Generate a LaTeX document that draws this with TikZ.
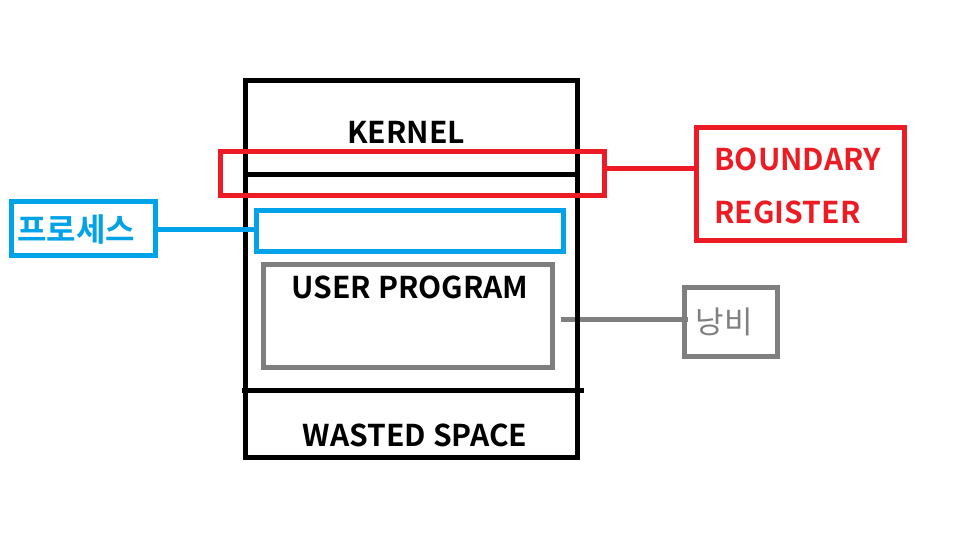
\documentclass[tikz,border=0pt]{standalone}
\usepackage{fontspec}
\setmainfont{Noto Sans CJK KR}[BoldFont={Noto Sans CJK KR Bold}]
\definecolor{paintred}{HTML}{ED1C24}
\definecolor{paintblue}{HTML}{00A2E8}
\definecolor{paintgray}{HTML}{7F7F7F}

\begin{document}
\begin{tikzpicture}[x=1pt,y=-1pt,-,line width=5pt,
    box node/.style={draw,rectangle,inner sep=0pt},
    text node/.style={inner sep=0pt,font=\bfseries\fontsize{30}{36}\selectfont}]
            \useasboundingbox (0,0) rectangle (960,545);

            % user program and waste, under the memory box
            \node[box node,draw=paintgray,minimum width=289,minimum height=103] (user) at (408,316) {};
            \node[text node] (usertext) at (410,287) {USER PROGRAM};
            \node[box node,draw=paintgray,minimum width=93.5,minimum height=69] (waste) at (730.75,322) {};
            \node[text node,font=\fontsize{31}{36}\selectfont,text=paintgray] (wastetext) at (724,322) {낭비};
            \path ([xshift=6pt,yshift=-3.3pt]user.east) edge[draw=paintgray] ([xshift=6pt,yshift=-3.3pt]user.east -| waste.west);

            % memory
            \node[box node,minimum width=332,minimum height=377] (mem) at (411.5,269) {};
            \coordinate (kl) at (245,174.5);
            \coordinate (kr) at (580,174.5);
            \coordinate (wl) at (242,390);
            \coordinate (wr) at (584,390);
            \draw (kl) -- (kr);
            \draw (wl) -- (wr);
            \node[text node] (kernel) at (406,132) {KERNEL};
            \node[text node] (wasted) at (415,435) {WASTED SPACE};

            % boundary register
            \node[box node,draw=paintred,minimum width=384,minimum height=44.5] (reg) at (412.5,173.7) {};
            \node[box node,draw=paintred,minimum width=207.5,minimum height=113] (reglabel) at (800.25,184) {};
            \node[text node,text=paintred,anchor=west,align=left,font=\bfseries\fontsize{30}{53}\selectfont] (regtext) at (712,185.5) {BOUNDARY\\REGISTER};

            % process
            \node[box node,draw=paintblue,minimum width=306.5,minimum height=41] (proc) at (409.75,231) {};
            \node[box node,draw=paintblue,minimum width=144,minimum height=54] (proclabel) at (83.5,228.5) {};
            \node[text node,text=paintblue,font=\bfseries\fontsize{32}{36}\selectfont] (proctext) at (76,229) {프로세스};

            \path
                    ([yshift=5.4pt]reg.east) edge[draw=paintred] ([yshift=5.4pt]reg.east -| reglabel.west)
                    ([yshift=-1.5pt]proclabel.east) edge[draw=paintblue] ([yshift=-1.5pt]proclabel.east -| proc.west)
                ;
        \end{tikzpicture}
\end{document}
